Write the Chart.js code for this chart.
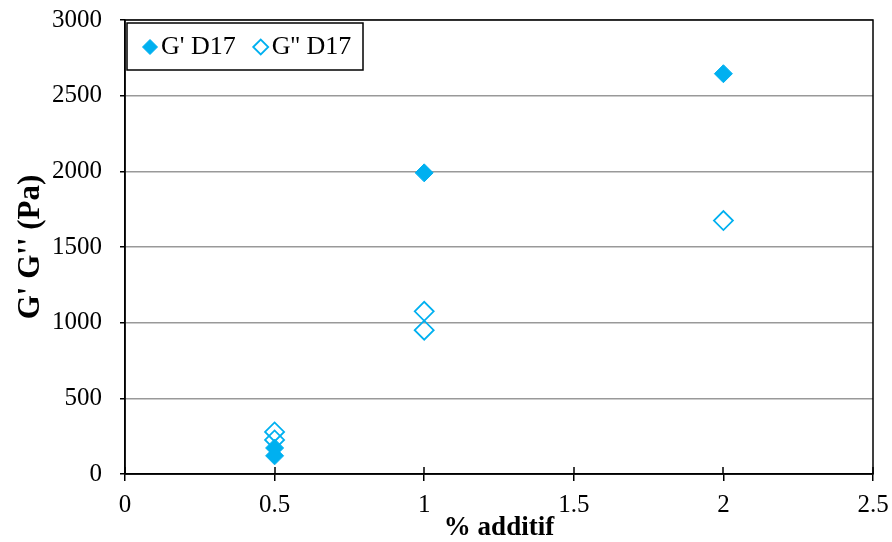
<!DOCTYPE html>
<html>
<head>
<meta charset="utf-8">
<script src="https://cdn.jsdelivr.net/npm/chart.js@4/dist/chart.umd.min.js"></script>
<style>
  html, body { margin: 0; padding: 0; background: #fff; }
  #wrap { width: 892px; height: 542px; }
</style>
</head>
<body>
<div id="wrap"><canvas id="chart" width="892" height="542"></canvas></div>
<script>
"use strict";

// ---------- Data ----------
const seriesLabels = ["G' D17", "G'' D17"];
const gPrimeX = [0.5, 0.5, 1, 2];
const gPrimeY = [172, 120, 1990, 2645];
const gSecondX = [0.5, 0.5, 1, 1, 2];
const gSecondY = [278, 225, 1075, 950, 1675];
const xTicks = [0, 0.5, 1, 1.5, 2, 2.5];
const yTicks = [0, 500, 1000, 1500, 2000, 2500, 3000];

const BLUE = "#00B0F0";
const FONT = "'Liberation Serif', 'Times New Roman', serif";

function toPoints(xs, ys) {
  return xs.map((x, i) => ({ x, y: ys[i] }));
}

// frame on top/right + inner half of x tick marks
const framePlugin = {
  id: "frame",
  afterDatasetsDraw(chart) {
    const { ctx, chartArea: a } = chart;
    const xs = chart.scales.x;
    ctx.save();
    ctx.strokeStyle = "#000";
    ctx.lineWidth = 1.5;
    ctx.strokeRect(a.left, a.top, a.right - a.left, a.bottom - a.top);
    ctx.beginPath();
    for (const v of xTicks) {
      const px = Math.round(xs.getPixelForValue(v));
      ctx.moveTo(px, a.bottom);
      ctx.lineTo(px, a.bottom - 7);
    }
    ctx.stroke();
    ctx.restore();
  }
};

// boxed legend in the top-left corner of the plot
const legendPlugin = {
  id: "boxLegend",
  afterDraw(chart) {
    const { ctx, chartArea: a } = chart;
    const left = a.left + 2, top = a.top + 3;
    ctx.save();
    ctx.fillStyle = "#fff";
    ctx.fillRect(left, top, 236, 47);
    ctx.strokeStyle = "#000";
    ctx.lineWidth = 1.5;
    ctx.strokeRect(left, top, 236, 47);
    ctx.font = "26px " + FONT;
    ctx.textBaseline = "middle";
    const cy = top + 24;
    let x = left + 23;
    chart.data.datasets.forEach((ds) => {
      ctx.fillStyle = ds.pointBackgroundColor;
      ctx.strokeStyle = BLUE;
      ctx.lineWidth = ds.pointBorderWidth;
      Chart.helpers.drawPoint(ctx, { pointStyle: "rectRot", radius: 7.5, borderWidth: ds.pointBorderWidth }, x, cy);
      ctx.fillStyle = "#000";
      ctx.fillText(ds.label, x + 11, cy);
      x += ctx.measureText(ds.label).width + 36;
    });
    ctx.restore();
  }
};

new Chart(document.getElementById("chart"), {
  type: "scatter",
  data: {
    datasets: [
      {
        label: seriesLabels[0],
        data: toPoints(gPrimeX, gPrimeY),
        pointStyle: "rectRot",
        pointRadius: 9,
        pointBackgroundColor: BLUE,
        pointBorderColor: BLUE,
        pointBorderWidth: 1
      },
      {
        label: seriesLabels[1],
        data: toPoints(gSecondX, gSecondY),
        pointStyle: "rectRot",
        pointRadius: 9.5,
        pointBackgroundColor: "rgba(255,255,255,0)",
        pointBorderColor: BLUE,
        pointBorderWidth: 1.8
      }
    ]
  },
  options: {
    responsive: false,
    animation: false,
    devicePixelRatio: 1,
    layout: { padding: { top: 20, right: 19, left: 0, bottom: 0 } },
    plugins: {
      legend: { display: false },
      tooltip: { enabled: false }
    },
    scales: {
      x: {
        type: "linear",
        min: 0,
        max: 2.5,
        afterFit(scale) { scale.height = 68; scale.paddingRight = 0; scale.paddingLeft = 0; },
        afterBuildTicks(scale) { scale.ticks = xTicks.map(v => ({ value: v })); },
        border: { display: true, color: "#000", width: 1.5 },
        grid: { drawOnChartArea: false, drawTicks: true, tickLength: 7, color: "#000", lineWidth: 1.5 },
        ticks: {
          color: "#000",
          padding: 9,
          maxRotation: 0,
          callback: (v) => String(v),
          font: { family: FONT, size: 25 }
        },
        title: {
          display: true,
          text: "% additif",
          color: "#000",
          padding: { top: 0, bottom: -2 },
          font: { family: FONT, size: 27, weight: "bold" }
        }
      },
      y: {
        min: 0,
        max: 3000,
        afterFit(scale) { scale.width = 125; scale.paddingTop = 0; scale.paddingBottom = 0; },
        afterBuildTicks(scale) { scale.ticks = yTicks.map(v => ({ value: v })); },
        border: { display: true, color: "#000", width: 1.5 },
        grid: { color: "#999", lineWidth: 1.5, tickColor: "#000", tickLength: 5 },
        ticks: {
          color: "#000",
          padding: 18,
          callback: (v) => String(v),
          font: { family: FONT, size: 25 }
        },
        title: {
          display: true,
          text: "G' G'' (Pa)",
          color: "#000",
          padding: { top: 12, bottom: 0 },
          font: { family: FONT, size: 31, weight: "bold" }
        }
      }
    }
  },
  plugins: [framePlugin, legendPlugin]
});
</script>
</body>
</html>
